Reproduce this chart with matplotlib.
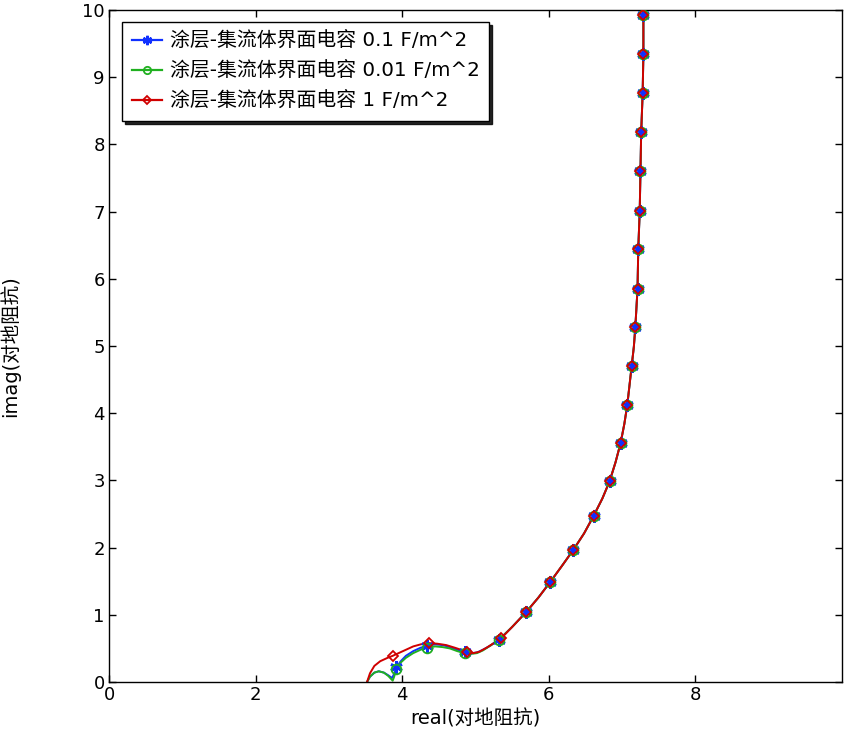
import matplotlib
matplotlib.use("Agg")
import matplotlib.pyplot as plt

plt.rcParams['font.family'] = ['DejaVu Sans', 'Noto Sans CJK SC']

# shared upper branch (x, y) and which are marker samples
tail_x = [5.50, 5.69, 5.86, 6.02, 6.18, 6.33, 6.48, 6.61, 6.73, 6.83, 6.91, 6.98,
          7.03, 7.07, 7.10, 7.13, 7.16, 7.18, 7.21, 7.22, 7.24, 7.25, 7.26, 7.28,
          7.29, 7.29, 7.30]
tail_y = [0.82, 1.04, 1.26, 1.49, 1.73, 1.96, 2.21, 2.47, 2.73, 2.99, 3.27, 3.56,
          3.84, 4.12, 4.41, 4.70, 4.99, 5.28, 5.85, 6.44, 7.01, 7.60, 8.18, 8.76,
          9.35, 9.93, 10.30]
tail_mx = [5.69, 6.02, 6.33, 6.61, 6.83, 6.98, 7.07, 7.13, 7.18, 7.21, 7.22, 7.24,
           7.25, 7.26, 7.28, 7.29, 7.29]
tail_my = [1.04, 1.49, 1.96, 2.47, 2.99, 3.56, 4.12, 4.70, 5.28, 5.85, 6.44, 7.01,
           7.60, 8.18, 8.76, 9.35, 9.93]

# low-frequency heads
blue_x = [3.52, 3.56, 3.62, 3.68, 3.75, 3.81, 3.86, 3.88, 3.92, 3.98, 4.05, 4.15,
          4.25, 4.34, 4.45, 4.55, 4.65, 4.75, 4.85, 4.95, 5.02, 5.10, 5.20, 5.32]
blue_y = [0.00, 0.08, 0.14, 0.16, 0.14, 0.10, 0.06, 0.10, 0.22, 0.31, 0.39, 0.46,
          0.51, 0.54, 0.56, 0.55, 0.52, 0.48, 0.45, 0.43, 0.44, 0.48, 0.54, 0.63]
blue_mx = [3.92, 4.34, 4.85, 5.32]
blue_my = [0.22, 0.54, 0.45, 0.63]

green_x = [3.52, 3.56, 3.62, 3.68, 3.75, 3.81, 3.87, 3.89, 3.92, 3.98, 4.05, 4.15,
           4.25, 4.34, 4.45, 4.55, 4.65, 4.75, 4.85, 4.95, 5.02, 5.10, 5.20, 5.32]
green_y = [0.00, 0.08, 0.14, 0.16, 0.14, 0.09, 0.02, 0.08, 0.20, 0.29, 0.36, 0.43,
           0.48, 0.51, 0.53, 0.52, 0.50, 0.46, 0.43, 0.42, 0.43, 0.47, 0.54, 0.63]
green_mx = [3.92, 4.34, 4.85, 5.32]
green_my = [0.20, 0.51, 0.43, 0.63]

red_x = [3.52, 3.56, 3.62, 3.70, 3.80, 3.87, 3.95, 4.05, 4.15, 4.25, 4.36, 4.48,
         4.60, 4.72, 4.83, 4.89, 4.97, 5.05, 5.15, 5.25, 5.35]
red_y = [0.00, 0.13, 0.24, 0.31, 0.36, 0.39, 0.43, 0.48, 0.53, 0.56, 0.58, 0.57,
         0.55, 0.51, 0.47, 0.45, 0.43, 0.45, 0.51, 0.58, 0.65]
red_mx = [3.87, 4.36, 4.89, 5.35]
red_my = [0.39, 0.58, 0.45, 0.65]

labels = ['涂层-集流体界面电容 0.1 F/m^2', '涂层-集流体界面电容 0.01 F/m^2',
          '涂层-集流体界面电容 1 F/m^2']
x_ticks = [0, 2, 4, 6, 8]
y_ticks = [0, 1, 2, 3, 4, 5, 6, 7, 8, 9, 10]

fig = plt.figure(figsize=(8.45, 7.34), dpi=100)
ax = fig.add_axes([0.129, 0.0708, 0.8675, 0.9156])

series = [
    (blue_x, blue_y, blue_mx, blue_my, '#1030ff', (6, 2, 0), dict(markersize=9, mew=1.8)),
    (green_x, green_y, green_mx, green_my, '#20b020', 'o', dict(markersize=7, mew=1.3, mfc='none')),
    (red_x, red_y, red_mx, red_my, '#d00000', 'D', dict(markersize=5.5, mew=1.3, mfc='none')),
]
handles = []
for (hx, hy, mx, my, c, m, mk), lab in zip(series, labels):
    ax.plot(hx + tail_x, hy + tail_y, color=c, lw=1.4, zorder=2)
    ax.plot(mx + tail_mx, my + tail_my, ls='none', marker=m, color=c, mec=c, zorder=3, **mk)
    h, = ax.plot([], [], color=c, lw=1.6, marker=m, mec=c,
                 **dict(mk, markersize=mk['markersize'] * 0.75))
    handles.append(h)

ax.set_xlim(0, 10)
ax.set_ylim(0, 10)
ax.set_xticks(x_ticks)
ax.set_yticks(y_ticks)
ax.tick_params(direction='in', length=5, width=1, top=True, right=True, labelsize=13, pad=3)
for s in ax.spines.values():
    s.set_linewidth(1)

ax.set_xlabel('real(对地阻抗)', fontsize=14)
ax.set_ylabel('imag(对地阻抗)', fontsize=14)
ax.xaxis.set_label_coords(0.5, -0.040)
ax.yaxis.set_label_coords(-0.121, 0.5)

leg = ax.legend(handles, labels, loc='upper left', bbox_to_anchor=(0.0177, 0.982),
                prop={'size': 14.3}, frameon=True, fancybox=False, edgecolor='black',
                shadow={'color': 'black', 'alpha': 0.85}, handlelength=1.5,
                handletextpad=0.4, borderpad=0.5, labelspacing=0.55, borderaxespad=0)
leg.get_frame().set_linewidth(1)
leg.get_frame().set_alpha(1)

fig.savefig('out.png', dpi=100)
